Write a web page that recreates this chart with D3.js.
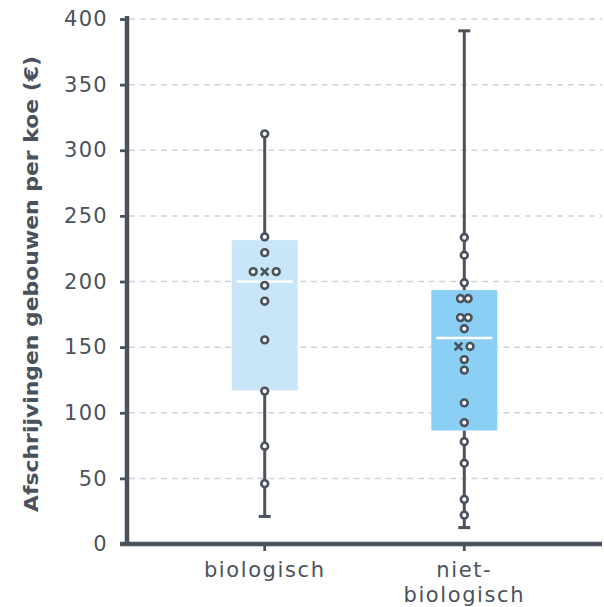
<!DOCTYPE html>
<html>
<head>
<meta charset="utf-8">
<script src="https://cdn.jsdelivr.net/npm/d3@7"></script>
<style>
  html, body { margin: 0; padding: 0; background: #fff; }
  svg { display: block; font-family: "DejaVu Sans", "Noto Sans", sans-serif; }
</style>
</head>
<body>
<svg id="chart" width="604" height="607"></svg>
<script>
// Depreciation of buildings per cow, organic vs. conventional farms
const categories = ["biologisch", "niet-biologisch"];
const categoryLabels = [["biologisch"], ["niet-", "biologisch"]];
const whiskerLow = [21, 12.5];
const quartile1 = [117, 86.5];
const medians = [200, 157];
const quartile3 = [231.5, 193.5];
const whiskerHigh = [312.5, 391];
const means = [207.5, 150.5];
const pointsBiologisch = [312.5, 234, 222, 207.5, 207.5, 197, 185, 155.5, 116.5, 74.5, 46];
const pointsNietBiologisch = [233.5, 220, 199, 187, 187, 172.5, 172.5, 164, 150.5, 140.5, 132.5, 107.5, 92.5, 78, 61.5, 34, 22];
const yTicks = [0, 50, 100, 150, 200, 250, 300, 350, 400];
const yTitle = "Afschrijvingen gebouwen per koe (€)";

const points = [pointsBiologisch, pointsNietBiologisch];
const boxColors = ["#c9e6f8", "#8bcff4"];
const ink = "#4a525d";

const svg = d3.select("#chart");
const plotLeft = 127, plotRight = 602, plotTop = 19, plotBottom = 544;

const y = d3.scaleLinear().domain([0, 400]).range([plotBottom, plotTop]);
const x = d3.scaleBand().domain(categories).range([plotLeft, plotRight]).paddingInner(0).paddingOuter(0.19);
const cx = c => x(c) + x.bandwidth() / 2;
const boxWidth = 66, medianWidth = 56, capWidth = 12;

// dashed horizontal gridlines
svg.append("g").selectAll("line")
  .data(yTicks.filter(t => t > 0))
  .join("line")
  .attr("x1", plotLeft + 2).attr("x2", plotRight)
  .attr("y1", d => y(d)).attr("y2", d => y(d))
  .attr("stroke", "#cfd3d7").attr("stroke-width", 1.5)
  .attr("stroke-dasharray", "6,4.7");

const stats = categories.map((c, i) => ({
  cat: c, lo: whiskerLow[i], q1: quartile1[i], med: medians[i], q3: quartile3[i],
  hi: whiskerHigh[i], mean: means[i], pts: points[i], color: boxColors[i]
}));

const g = svg.append("g");

// whiskers (outside the box)
stats.forEach(s => {
  const xc = cx(s.cat);
  g.append("line").attr("x1", xc).attr("x2", xc).attr("y1", y(s.hi)).attr("y2", y(s.q3))
    .attr("stroke", ink).attr("stroke-width", 3);
  g.append("line").attr("x1", xc).attr("x2", xc).attr("y1", y(s.q1)).attr("y2", y(s.lo))
    .attr("stroke", ink).attr("stroke-width", 3);
  [s.lo, s.hi].forEach(v => {
    if (s.pts.includes(v)) return; // a data point already marks this end
    g.append("line").attr("x1", xc - capWidth / 2).attr("x2", xc + capWidth / 2)
      .attr("y1", y(v)).attr("y2", y(v))
      .attr("stroke", ink).attr("stroke-width", 3);
  });
});

// boxes and medians
g.selectAll("rect.box").data(stats).join("rect").attr("class", "box")
  .attr("x", d => cx(d.cat) - boxWidth / 2)
  .attr("width", boxWidth)
  .attr("y", d => y(d.q3))
  .attr("height", d => y(d.q1) - y(d.q3))
  .attr("fill", d => d.color);

g.selectAll("line.median").data(stats).join("line").attr("class", "median")
  .attr("x1", d => cx(d.cat) - medianWidth / 2)
  .attr("x2", d => cx(d.cat) + medianWidth / 2)
  .attr("y1", d => y(d.med)).attr("y2", d => y(d.med))
  .attr("stroke", "#fff").attr("stroke-width", 2.4);

// points dodged sideways when they share a value; mean marker joins its row
stats.forEach(s => {
  const xc = cx(s.cat);
  const rows = d3.group(s.pts, v => v);
  let meanPlaced = false;
  const marks = [];
  rows.forEach((vals, v) => {
    const items = vals.map(() => "o");
    if (v === s.mean) { items.splice(Math.floor(items.length / 2), 0, "x"); meanPlaced = true; }
    const gaps = [];
    for (let k = 1; k < items.length; k++) gaps.push(items[k] === "x" || items[k - 1] === "x" ? 11.5 : 7.6);
    const total = d3.sum(gaps);
    let pos = -total / 2;
    items.forEach((t, k) => {
      if (k > 0) pos += gaps[k - 1];
      marks.push({ type: t, v, dx: pos });
    });
  });
  if (!meanPlaced) marks.push({ type: "x", v: s.mean, dx: 0 });

  g.selectAll(null).data(marks.filter(m => m.type === "o")).join("circle")
    .attr("cx", m => xc + m.dx).attr("cy", m => y(m.v)).attr("r", 3.4)
    .attr("fill", "#fff").attr("stroke", ink).attr("stroke-width", 2.6);

  const xs = 3.8;
  marks.filter(m => m.type === "x").forEach(m => {
    const px = xc + m.dx, py = y(m.v);
    g.append("path")
      .attr("d", `M${px - xs},${py - xs}L${px + xs},${py + xs}M${px - xs},${py + xs}L${px + xs},${py - xs}`)
      .attr("stroke", ink).attr("stroke-width", 2.6).attr("fill", "none");
  });
});

// y axis
const yAxis = svg.append("g").attr("transform", `translate(${plotLeft},0)`)
  .call(d3.axisLeft(y).tickValues(yTicks).tickSize(7).tickPadding(12).tickSizeOuter(0));
yAxis.select(".domain").attr("stroke", ink).attr("stroke-width", 4.5)
  .attr("d", `M0,${plotTop - 3}V${plotBottom}`);
yAxis.selectAll(".tick line").attr("stroke", ink).attr("stroke-width", 2.8);
yAxis.selectAll(".tick text").attr("fill", ink).attr("font-size", 21)
  .attr("letter-spacing", 1.3).attr("font-family", "DejaVu Sans, sans-serif");

// x axis
const xAxis = svg.append("g").attr("transform", `translate(0,${plotBottom})`)
  .call(d3.axisBottom(x).tickSize(7).tickSizeOuter(0).tickFormat(""));
xAxis.select(".domain").attr("stroke", ink).attr("stroke-width", 4.5)
  .attr("d", `M${plotLeft - 7},0H${plotRight}`);
xAxis.selectAll(".tick line").attr("stroke", ink).attr("stroke-width", 2.8);
xAxis.selectAll(".tick").each(function (d, i) {
  const t = d3.select(this).append("text")
    .attr("fill", ink).attr("font-size", 21).attr("letter-spacing", 1.6)
    .attr("text-anchor", "middle").attr("font-family", "DejaVu Sans, sans-serif");
  categoryLabels[i].forEach((line, k) => {
    t.append("tspan").attr("x", 0).attr("y", 33 + k * 25).text(line);
  });
});

// y axis title
svg.append("text")
  .attr("transform", `translate(38,${(56 + 512) / 2}) rotate(-90)`)
  .attr("text-anchor", "middle")
  .attr("font-size", 20).attr("font-weight", "bold")
  .attr("fill", ink)
  .attr("textLength", 456).attr("lengthAdjust", "spacingAndGlyphs")
  .text(yTitle);
</script>
</body>
</html>
